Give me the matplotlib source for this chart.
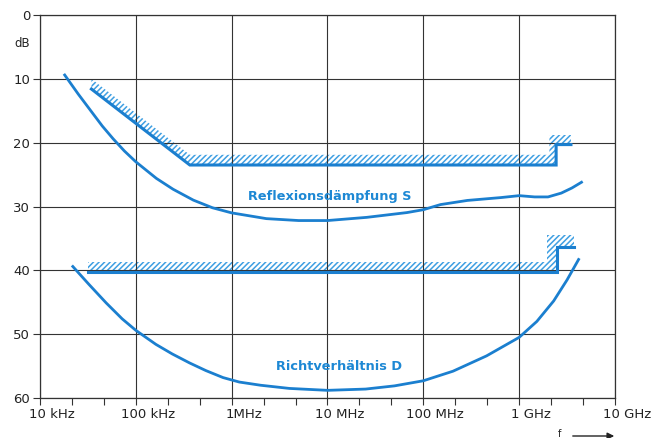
import numpy as np
import matplotlib
matplotlib.use('Agg')
import matplotlib.pyplot as plt
from matplotlib.patches import Polygon
from matplotlib.transforms import ScaledTranslation, blended_transform_factory

# Reflexionsdaempfung S (gemessen)
s_freq = [18.1e3, 25.1e3, 33.1e3, 44.7e3, 58e3, 75.9e3, 100e3, 164e3, 245e3, 398e3,
          631e3, 1e6, 2.3e6, 5e6, 10e6, 25.7e6, 67.6e6, 100e6, 151e6, 288e6, 646e6,
          1e9, 1.45e9, 2e9, 2.75e9, 3.55e9, 4.47e9]
s_db = [9.4, 12.4, 14.8, 17.4, 19.4, 21.3, 23.0, 25.6, 27.3, 29.0,
        30.2, 31.0, 31.9, 32.2, 32.2, 31.7, 30.95, 30.5, 29.7, 29.05, 28.6,
        28.3, 28.5, 28.5, 27.9, 27.1, 26.2]

# Richtverhaeltnis D (gemessen)
d_freq = [22e3, 32.4e3, 49e3, 72e3, 100e3, 162e3, 240e3, 363e3, 537e3, 813e3, 1.2e6,
          2e6, 4e6, 10e6, 25e6, 50e6, 100e6, 204e6, 457e6, 1e9, 1.53e9, 2.29e9,
          3.16e9, 4.17e9]
d_db = [39.4, 42.2, 45.1, 47.6, 49.4, 51.6, 53.1, 54.5, 55.7, 56.8, 57.5,
        58.0, 58.5, 58.8, 58.6, 58.1, 57.3, 55.8, 53.4, 50.5, 48.0, 44.8,
        41.5, 38.3]

# Grenzwerte
s_lim_freq = [34.4e3, 366e3, 2.43e9, 2.43e9, 3.47e9]
s_lim_db = [11.6, 23.5, 23.5, 20.3, 20.3]
d_lim_freq = [32e3, 2.5e9, 2.5e9, 3.7e9]
d_lim_db = [40.2, 40.2, 36.3, 36.3]

xticks = [1e4, 1e5, 1e6, 1e7, 1e8, 1e9, 1e10]
xlabels = ['10 kHz', '100 kHz', '1MHz', '10 MHz', '100 MHz', '1 GHz', '10 GHz']
yticks = [0, 10, 20, 30, 40, 50, 60]

blue = '#1b7fcf'
hatch_blue = '#3f9fe2'
text_blue = '#1d88d4'
grid_col = '#333333'

plt.rcParams['hatch.linewidth'] = 1.1

fig = plt.figure(figsize=(6.51, 4.38), dpi=100)
ax = fig.add_axes([40 / 651, 1 - 398 / 438, 575 / 651, 383 / 438])
ax.set_xscale('log')
ax.set_xlim(1e4, 1e10)
ax.set_ylim(60, 0)


def hatch_band(freq, db, h, w, top_h):
    # Schraffur oberhalb der Grenzlinie, letzte zwei Punkte = Stufe
    f = list(freq)
    d = list(db)
    k = 10 ** (-w)
    upper = [(f[-1], d[-1] - top_h), (f[-2] * k, d[-1] - top_h), (f[-2] * k, d[-3] - h)]
    for fi, di in zip(f[-4::-1], d[-4::-1]):
        upper.append((fi, di - h))
    pts = list(zip(f, d)) + upper
    return Polygon(pts, closed=True, fill=False, hatch='//////',
                   edgecolor=hatch_blue, linewidth=0)


ax.add_patch(hatch_band(s_lim_freq, s_lim_db, 1.6, 0.07, 1.5))
ax.add_patch(hatch_band(d_lim_freq, d_lim_db, 1.5, 0.11, 1.9))

ax.plot(s_lim_freq, s_lim_db, color=blue, lw=2.2, solid_joinstyle='miter')
ax.plot(d_lim_freq, d_lim_db, color=blue, lw=2.2, solid_joinstyle='miter')
ax.plot(s_freq, s_db, color=blue, lw=2.0)
ax.plot(d_freq, d_db, color=blue, lw=2.0)

ax.text(10 ** 7.02, 28.4, 'Reflexionsdämpfung S', color=text_blue, fontsize=9.3,
        fontweight='bold', ha='center', va='center')
ax.text(10 ** 7.12, 55.0, 'Richtverhältnis D', color=text_blue, fontsize=9.3,
        fontweight='bold', ha='center', va='center')

ax.set_xticks(xticks)
ax.set_xticklabels(xlabels)
ax.set_xticks([10 ** (e + j / 3) for e in range(4, 10) for j in (1, 2)], minor=True)
ax.xaxis.set_minor_formatter(matplotlib.ticker.NullFormatter())
ax.set_yticks(yticks)
ax.grid(True, which='major', color=grid_col, lw=0.8)
ax.tick_params(axis='both', which='both', direction='out', length=5, width=0.8,
               color=grid_col, labelsize=9.5, labelcolor='#222222', pad=2)
for sp in ax.spines.values():
    sp.set_color(grid_col)
    sp.set_linewidth(0.9)

shift = ScaledTranslation(12 / 100, 0, fig.dpi_scale_trans)
for lab in ax.get_xticklabels():
    lab.set_transform(lab.get_transform() + shift)

ax.text(-0.031, 4.4, 'dB', transform=blended_transform_factory(ax.transAxes, ax.transData),
        ha='center', va='center', fontsize=8.5, color='#222222')

fig.text(560 / 651, 1 - 434 / 438, 'f', fontsize=7, color='#222222', ha='center', va='center')
ax.annotate('', xy=(617 / 651, 1 - 436 / 438), xytext=(570 / 651, 1 - 436 / 438),
            xycoords='figure fraction', textcoords='figure fraction',
            annotation_clip=False,
            arrowprops=dict(arrowstyle='-|>', color='#222222', lw=1, mutation_scale=10))

fig.savefig('out.png', dpi=100)
